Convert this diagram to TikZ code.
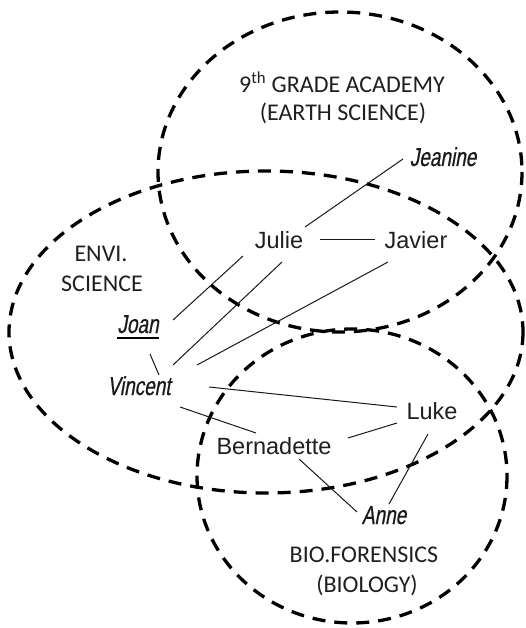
\documentclass[tikz,border=0pt]{standalone}
\usepackage{fontspec}
\setmainfont{Liberation Sans}
\newfontfamily\calib{Carlito}
\newfontfamily\condit[FakeStretch=0.73,FakeSlant=0.18,FakeBold=0.6]{Liberation Sans}
\begin{document}
\begin{tikzpicture}[x=1pt,y=-1pt,
  grp/.style={line width=3.3pt,dashed,dash pattern=on 13pt off 9pt},
  lbl/.style={font=\calib\fontsize{24}{28}\selectfont,anchor=base,inner sep=0pt,text=black!88},
  nm/.style={font=\fontsize{23.5}{28}\selectfont,anchor=base,inner sep=0pt,text=black!88},
  it/.style={font=\condit\fontsize{26}{30}\selectfont,anchor=base,inner sep=0pt,text=black!90},
  link/.style={line width=1pt,black!90}]
\useasboundingbox (0,0) rectangle (525,628);
% groups
\draw[grp] (340,172) ellipse [x radius=182, y radius=160];
\draw[grp] (266,332) ellipse [x radius=257, y radius=161];
\draw[grp] (352,476) ellipse [x radius=155, y radius=147];
% group labels
\node[lbl] (t1) at (342,93) {9\textsuperscript{th} GRADE ACADEMY};
\node[lbl] (t2) at (343,121) {(EARTH SCIENCE)};
\node[lbl] (e1) at (101,261) {ENVI.};
\node[lbl] (e2) at (102,291) {SCIENCE};
\node[lbl] (b1) at (364,562) {BIO.FORENSICS};
\node[lbl] (b2) at (367,592) {(BIOLOGY)};
% people
\node[it] (Jeanine) at (443,166) {Jeanine};
\node[nm] (Julie) at (279,248) {Julie};
\node[nm] (Javier) at (416,248) {Javier};
\node[it] (Joan) at (138,333) {Joan};
\node[it] (Vincent) at (139,395) {Vincent};
\node[nm] (Luke) at (432,419) {Luke};
\node[nm] (Bern) at (274,454) {Bernadette};
\node[it] (Anne) at (384,524) {Anne};
\draw[line width=1.5pt] ([shift={(-21,5)}]Joan.base) -- ([shift={(21,5)}]Joan.base);
% links
\draw[link] ([shift={(26,-21)}]Julie.base) -- ([shift={(-40,-7)}]Jeanine.base);
\draw[link] ([shift={(41,-9)}]Julie.base) -- ([shift={(-41,-9)}]Javier.base);
\draw[link] ([shift={(-36,8)}]Julie.base) -- ([shift={(35,-13)}]Joan.base);
\draw[link] ([shift={(3,14)}]Julie.base) -- ([shift={(34,-30)}]Vincent.base);
\draw[link] ([shift={(-28,14)}]Javier.base) -- ([shift={(58,-30)}]Vincent.base);
\draw[link] ([shift={(12,21)}]Joan.base) -- ([shift={(20,-20)}]Vincent.base);
\draw[link] ([shift={(70,-8)}]Vincent.base) -- ([shift={(-35,-12)}]Luke.base);
\draw[link] ([shift={(41,12)}]Vincent.base) -- ([shift={(-18,-21)}]Bern.base);
\draw[link] ([shift={(74,-16)}]Bern.base) -- ([shift={(-35,4)}]Luke.base);
\draw[link] ([shift={(25,5)}]Bern.base) -- ([shift={(-27,-12)}]Anne.base);
\draw[link] ([shift={(-4,15)}]Luke.base) -- ([shift={(5,-20)}]Anne.base);
\end{tikzpicture}
\end{document}
